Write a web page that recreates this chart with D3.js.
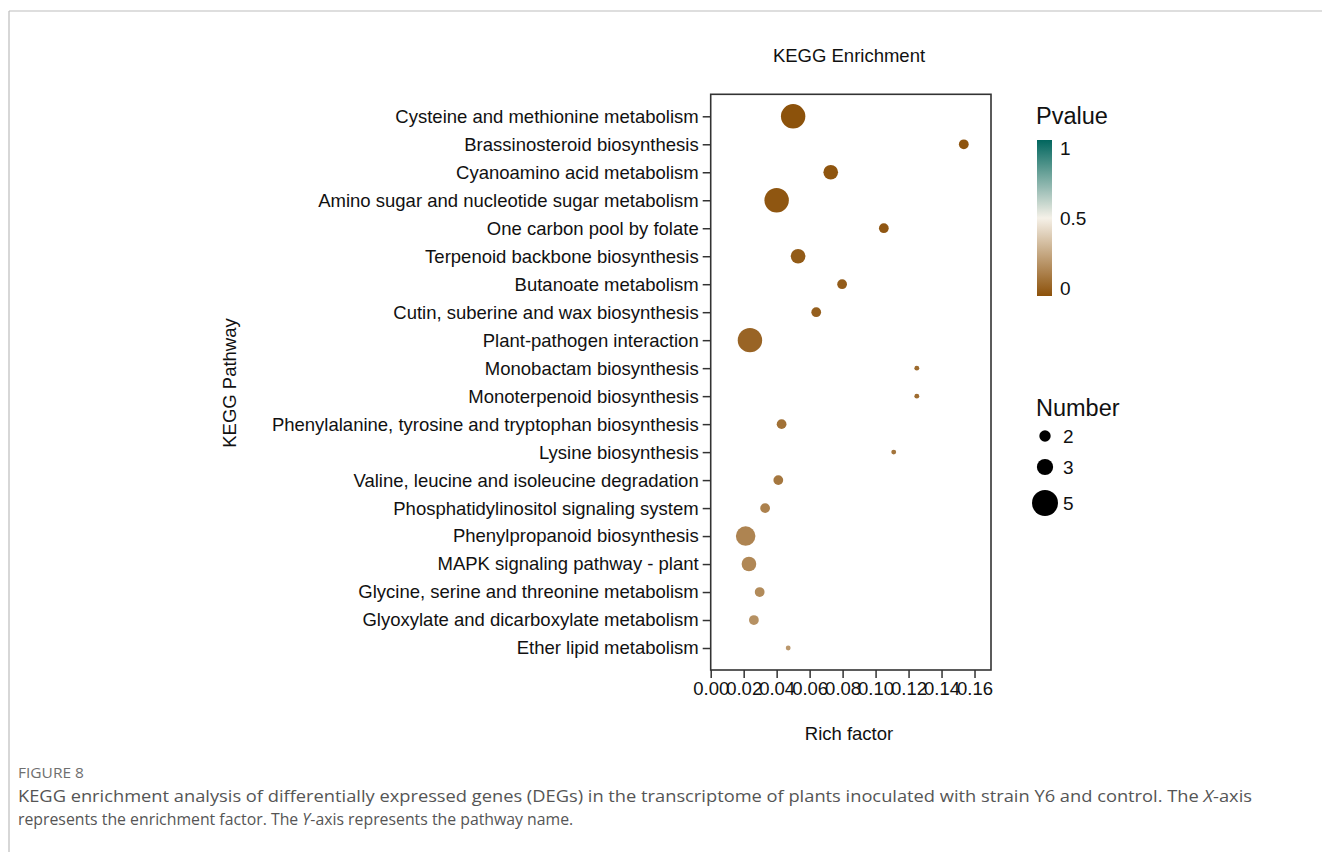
<!DOCTYPE html>
<html>
<head>
<meta charset="utf-8">
<script src="https://cdn.jsdelivr.net/npm/d3@7"></script>
<style>
  html, body { margin: 0; padding: 0; background: #fff; }
  svg { display: block; }
</style>
</head>
<body>
<svg id="fig" width="1322" height="852"></svg>
<script>
// KEGG pathways, top to bottom
const pathways = [
  "Cysteine and methionine metabolism",
  "Brassinosteroid biosynthesis",
  "Cyanoamino acid metabolism",
  "Amino sugar and nucleotide sugar metabolism",
  "One carbon pool by folate",
  "Terpenoid backbone biosynthesis",
  "Butanoate metabolism",
  "Cutin, suberine and wax biosynthesis",
  "Plant-pathogen interaction",
  "Monobactam biosynthesis",
  "Monoterpenoid biosynthesis",
  "Phenylalanine, tyrosine and tryptophan biosynthesis",
  "Lysine biosynthesis",
  "Valine, leucine and isoleucine degradation",
  "Phosphatidylinositol signaling system",
  "Phenylpropanoid biosynthesis",
  "MAPK signaling pathway - plant",
  "Glycine, serine and threonine metabolism",
  "Glyoxylate and dicarboxylate metabolism",
  "Ether lipid metabolism"
];
const richFactor = [0.050, 0.1535, 0.0728, 0.040, 0.105, 0.053, 0.0797, 0.064, 0.0238, 0.125,
                    0.125, 0.043, 0.111, 0.041, 0.033, 0.0212, 0.0232, 0.0297, 0.0262, 0.047];
const geneNumber = [5, 2, 3, 5, 2, 3, 2, 2, 5, 1, 1, 2, 1, 2, 2, 4, 3, 2, 2, 1];
const pValue = [0.002, 0.01, 0.012, 0.015, 0.02, 0.03, 0.035, 0.045, 0.06, 0.08,
                0.085, 0.10, 0.11, 0.12, 0.15, 0.16, 0.17, 0.18, 0.20, 0.22];
const xTicks = [0, 0.02, 0.04, 0.06, 0.08, 0.10, 0.12, 0.14, 0.16];
const pTicks = [0, 0.5, 1];
const numberTicks = [2, 3, 5];

const rows = pathways.map((name, i) => ({
  name, rich: richFactor[i], count: geneNumber[i], p: pValue[i]
}));

const svg = d3.select("#fig");
const font = "'Liberation Sans', Arial, sans-serif";

// page frame lines
svg.append("line").attr("x1", 9).attr("x2", 1322).attr("y1", 11).attr("y2", 11)
  .attr("stroke", "#bdbdbd").attr("stroke-width", 1.2);
svg.append("line").attr("x1", 9).attr("x2", 9).attr("y1", 11).attr("y2", 852)
  .attr("stroke", "#bdbdbd").attr("stroke-width", 1.2);

// plot panel
const panel = { left: 710.7, right: 991, top: 94.3, bottom: 670 };

const x = d3.scaleLinear().domain([0, 0.17]).range([panel.left, panel.right]);
const y = d3.scalePoint().domain(pathways).range([panel.top, panel.bottom]).padding(0.786);
const r = d3.scaleLinear().domain([0, 5]).range([0, 12.2]);
const color = d3.scaleLinear().domain([0, 0.5, 1])
  .range(["#8c510a", "#f5f1e8", "#01665e"]);

const g = svg.append("g");

// points
g.selectAll("circle.pt").data(rows).join("circle")
  .attr("class", "pt")
  .attr("cx", d => x(d.rich))
  .attr("cy", d => y(d.name))
  .attr("r", d => r(d.count))
  .attr("fill", d => color(d.p));

// panel border
g.append("rect")
  .attr("x", panel.left).attr("y", panel.top)
  .attr("width", panel.right - panel.left).attr("height", panel.bottom - panel.top)
  .attr("fill", "none").attr("stroke", "#333").attr("stroke-width", 1.6);

// y axis
const yAxis = g.append("g").attr("transform", `translate(${panel.left},0)`)
  .call(d3.axisLeft(y).tickSize(8).tickPadding(4));
yAxis.select(".domain").remove();
yAxis.selectAll("line").attr("stroke", "#333").attr("stroke-width", 1.5);
yAxis.selectAll("text").attr("font-family", font).attr("font-size", 18.5).attr("fill", "#111");

// x axis
const xAxis = g.append("g").attr("transform", `translate(0,${panel.bottom})`)
  .call(d3.axisBottom(x).tickValues(xTicks).tickFormat(d3.format(".2f")).tickSize(8).tickPadding(4));
xAxis.select(".domain").remove();
xAxis.selectAll("line").attr("stroke", "#333").attr("stroke-width", 1.5);
xAxis.selectAll("text").attr("font-family", font).attr("font-size", 18.5).attr("fill", "#111");

// titles
svg.append("text").attr("x", 849).attr("y", 62).attr("text-anchor", "middle")
  .attr("font-family", font).attr("font-size", 18.5).attr("fill", "#111")
  .text("KEGG Enrichment");
svg.append("text").attr("x", 849).attr("y", 740).attr("text-anchor", "middle")
  .attr("font-family", font).attr("font-size", 18.5).attr("fill", "#111")
  .text("Rich factor");
svg.append("text").attr("transform", "translate(236,383) rotate(-90)")
  .attr("text-anchor", "middle")
  .attr("font-family", font).attr("font-size", 18.5).attr("fill", "#111")
  .text("KEGG Pathway");

// Pvalue colour bar
const cb = { x: 1037, w: 15, top: 140, bottom: 296 };
const defs = svg.append("defs");
const grad = defs.append("linearGradient").attr("id", "pgrad")
  .attr("x1", 0).attr("y1", 1).attr("x2", 0).attr("y2", 0);
d3.range(0, 1.0001, 0.05).forEach(t => {
  grad.append("stop").attr("offset", t).attr("stop-color", color(t));
});
svg.append("text").attr("x", 1036).attr("y", 124)
  .attr("font-family", font).attr("font-size", 23.5).attr("fill", "#111").text("Pvalue");
svg.append("rect").attr("x", cb.x).attr("y", cb.top).attr("width", cb.w)
  .attr("height", cb.bottom - cb.top).attr("fill", "url(#pgrad)");
const pScale = d3.scaleLinear().domain([0, 1]).range([288, 148]);
svg.selectAll("text.plab").data(pTicks).join("text")
  .attr("class", "plab")
  .attr("x", 1060).attr("y", d => pScale(d)).attr("dy", "0.35em")
  .attr("font-family", font).attr("font-size", 19).attr("fill", "#111")
  .text(d => d3.format("")(d));

// Number size legend
svg.append("text").attr("x", 1036).attr("y", 416)
  .attr("font-family", font).attr("font-size", 23.5).attr("fill", "#111").text("Number");
const nY = d3.scaleOrdinal().domain(numberTicks).range([436, 467, 503]);
svg.selectAll("circle.nl").data(numberTicks).join("circle")
  .attr("class", "nl")
  .attr("cx", 1045).attr("cy", d => nY(d)).attr("r", d => r(d) + 0.8)
  .attr("fill", "#000");
svg.selectAll("text.nlab").data(numberTicks).join("text")
  .attr("class", "nlab")
  .attr("x", 1063).attr("y", d => nY(d)).attr("dy", "0.35em")
  .attr("font-family", font).attr("font-size", 19).attr("fill", "#111")
  .text(d => d);

// caption: condensed by scaling each line horizontally to its set width
const capFont = "'Open Sans', 'Noto Sans', sans-serif";
function captionLine(yPos, width, size, fill, parts) {
  const t = svg.append("text")
    .attr("font-family", capFont).attr("font-size", size).attr("fill", fill);
  parts.forEach(p => {
    const s = t.append("tspan").text(p.text);
    if (p.italic) s.attr("font-style", "italic");
  });
  const natural = t.node().getComputedTextLength();
  t.attr("transform", `translate(18,${yPos}) scale(${width / natural},1)`);
  return t;
}
captionLine(778, 66, 14, "#6f6f6f", [{ text: "FIGURE 8" }]);
captionLine(802, 1235, 17, "#555", [
  { text: "KEGG enrichment analysis of differentially expressed genes (DEGs) in the transcriptome of plants inoculated with strain Y6 and control. The " },
  { text: "X", italic: true },
  { text: "-axis" }
]);
captionLine(825, 556, 17, "#555", [
  { text: "represents the enrichment factor. The " },
  { text: "Y", italic: true },
  { text: "-axis represents the pathway name." }
]);
</script>
</body>
</html>
